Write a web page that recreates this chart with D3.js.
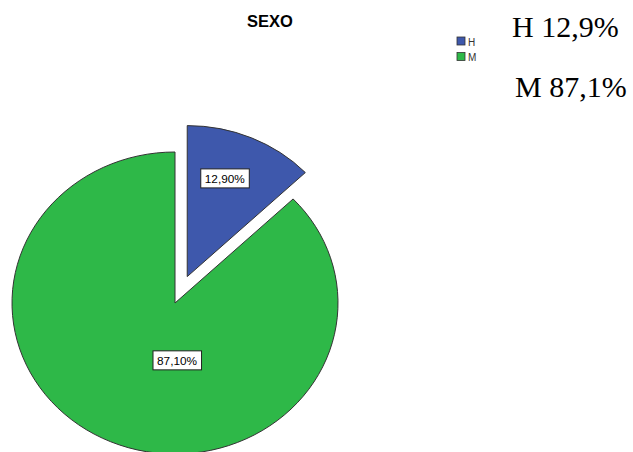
<!DOCTYPE html>
<html>
<head>
<meta charset="utf-8">
<script src="https://cdn.jsdelivr.net/npm/d3@7"></script>
<style>
  body { margin: 0; background: #fff; }
  svg { display: block; }
</style>
</head>
<body>
<div id="chart"></div>
<script>
// datos
const categories = ['H', 'M'];
const values = [12.9, 87.1];
const labels = ['12,90%', '87,10%'];
const notes = ['H 12,9%', 'M 87,1%'];
const colors = ['#3E58AC', '#2EB848'];

const W = 633, H = 452;
const svg = d3.select('#chart').append('svg')
    .attr('width', W)
    .attr('height', H);

// titulo
svg.append('text')
    .attr('x', 270)
    .attr('y', 27)
    .attr('text-anchor', 'middle')
    .style('font-family', 'Liberation Sans, Arial, sans-serif')
    .style('font-weight', 'bold')
    .style('font-size', '16.5px')
    .text('SEXO');

// pastel (un poco eliptico como en el original)
const cx = 175, cy = 303, r = 163, sy = 151 / 163;
const explode = 31;

const pie = d3.pie().sort(null).value(d => d)(values);
const arc = d3.arc().innerRadius(0).outerRadius(r);

const g = svg.append('g').attr('transform', `translate(${cx},${cy})`);

pie.forEach((p, i) => {
    const mid = (p.startAngle + p.endAngle) / 2;
    const off = i === 0 ? explode : 0;
    const dx = Math.sin(mid) * off, dy = -Math.cos(mid) * off * sy;
    const gs = g.append('g').attr('transform', `translate(${dx},${dy}) scale(1,${sy})`);
    gs.append('path')
        .attr('d', arc(p))
        .attr('fill', colors[i])
        .attr('stroke', '#333')
        .attr('stroke-width', 1)
        .attr('vector-effect', 'non-scaling-stroke');

    // etiqueta
    const la = p.startAngle + (p.endAngle - p.startAngle) * 0.42;
    const lr = i === 0 ? r * 0.69 : r * 0.38;
    const lx = dx + Math.sin(la) * lr;
    const ly = dy - Math.cos(la) * lr * sy;
    const lg = g.append('g').attr('transform', `translate(${lx},${ly})`);
    const t = lg.append('text')
        .attr('text-anchor', 'middle')
        .attr('dy', '0.36em')
        .style('font-family', 'Liberation Sans, Arial, sans-serif')
        .style('font-size', '11.8px')
        .text(labels[i]);
    const bb = t.node().getBBox();
    lg.insert('rect', 'text')
        .attr('x', bb.x - 4)
        .attr('y', -9.5)
        .attr('width', bb.width + 8)
        .attr('height', 19)
        .attr('fill', '#fff')
        .attr('stroke', '#222')
        .attr('stroke-width', 1);
});

// leyenda
const legend = svg.append('g').attr('transform', 'translate(457,37)');
categories.forEach((c, i) => {
    const row = legend.append('g').attr('transform', `translate(0,${i * 15.5})`);
    row.append('rect')
        .attr('width', 8).attr('height', 8)
        .attr('fill', colors[i])
        .attr('stroke', '#333')
        .attr('stroke-width', 0.8);
    row.append('text')
        .attr('x', 11).attr('y', 8.5)
        .style('font-family', 'Liberation Sans, Arial, sans-serif')
        .style('font-size', '10px')
        .style('fill', '#333')
        .text(c);
});

// notas a la derecha
svg.selectAll('.note')
    .data(notes)
    .enter().append('text')
    .attr('class', 'note')
    .attr('x', (d, i) => i === 0 ? 512 : 515)
    .attr('y', (d, i) => i === 0 ? 37 : 97)
    .style('font-family', 'Liberation Serif, Times New Roman, serif')
    .style('font-size', '30px')
    .text(d => d);
</script>
</body>
</html>
